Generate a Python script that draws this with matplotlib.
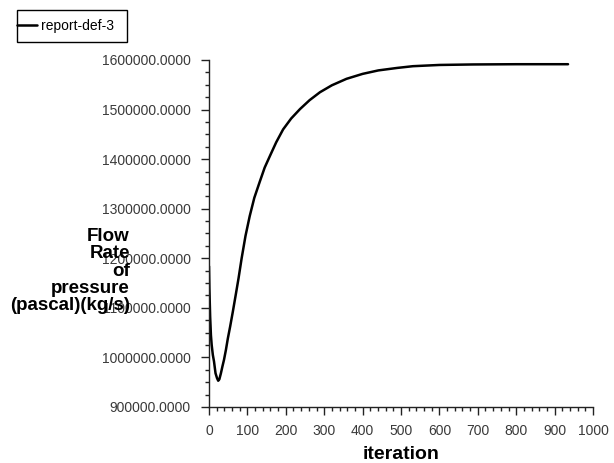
import matplotlib
matplotlib.use("Agg")
import matplotlib.pyplot as plt
from matplotlib.patches import Rectangle
from matplotlib.ticker import MultipleLocator, FormatStrFormatter

iterations = [0, 1, 3, 5, 7, 10, 13, 17, 21, 24, 27, 31, 35, 39, 44, 49, 55, 62, 70, 77,
              85, 95, 106, 118, 132, 145, 159, 175, 193, 214, 237, 262, 289, 320, 358, 400,
              441, 490, 531, 600, 687, 800, 935]
flow_rate = [1184000, 1140000, 1082000, 1045000, 1025000, 1005000, 992000, 968000, 958000, 953000,
             956000, 968000, 982000, 995000, 1015000, 1038000, 1062000, 1092000, 1128000, 1160000,
             1200000, 1245000, 1285000, 1322000, 1354000, 1383000, 1407000, 1434000, 1460000, 1482000,
             1501000, 1519000, 1535000, 1549000, 1562000, 1572000,
             1579000, 1584000, 1587500, 1590000, 1591000, 1591500, 1591500]

series_label = "report-def-3"
x_label = "iteration"
y_label = "Flow\nRate\nof\npressure\n(pascal)(kg/s)"

plt.rcParams['font.family'] = ['Liberation Sans', 'DejaVu Sans']

W, H = 614, 463
fig = plt.figure(figsize=(W / 100, H / 100), dpi=100)
ax = fig.add_axes([209 / W, 1 - 407 / H, (593 - 209) / W, (407 - 60) / H])

line, = ax.plot(iterations, flow_rate, color='black', lw=1.8,
                solid_joinstyle='round', solid_capstyle='round')

ax.set_xlim(0, 1000)
ax.set_ylim(900000, 1600000)
ax.xaxis.set_major_locator(MultipleLocator(100))
ax.xaxis.set_minor_locator(MultipleLocator(20))
ax.yaxis.set_major_locator(MultipleLocator(100000))
ax.yaxis.set_minor_locator(MultipleLocator(25000))
ax.yaxis.set_major_formatter(FormatStrFormatter('%.4f'))

for s in ['top', 'right']:
    ax.spines[s].set_visible(False)
for s in ['left', 'bottom']:
    ax.spines[s].set_linewidth(1.0)
    ax.spines[s].set_color('#222222')

ax.tick_params(axis='both', which='major', direction='out', length=6, width=1, color='#222222')
ax.tick_params(axis='both', which='minor', direction='out', length=3, width=1, color='#222222')
ax.tick_params(axis='y', labelsize=10, labelcolor='#3a3a3a', pad=7)
ax.tick_params(axis='x', labelsize=10, labelcolor='#3a3a3a', pad=6)

ax.set_xlabel(x_label, fontsize=14, fontweight='bold', labelpad=6)

fig.text(130 / W, 1 - 271 / H, y_label, ha='right', va='center', multialignment='right',
         fontsize=13.5, fontweight='bold', linespacing=1.03)

# legend: frame drawn in figure pixels, entry placed flush with its left edge
fig.patches.append(Rectangle((17 / W, 1 - 42 / H), 110 / W, 32 / H, transform=fig.transFigure,
                             fill=False, edgecolor='black', linewidth=1.0))
leg = fig.legend([line], [series_label], loc='center left', bbox_to_anchor=(17 / W, 1 - 26 / H),
                 frameon=False, fontsize=10, handlelength=1.45, handletextpad=0.25,
                 borderpad=0, borderaxespad=0)

fig.savefig('out.png', dpi=100, facecolor='white')
